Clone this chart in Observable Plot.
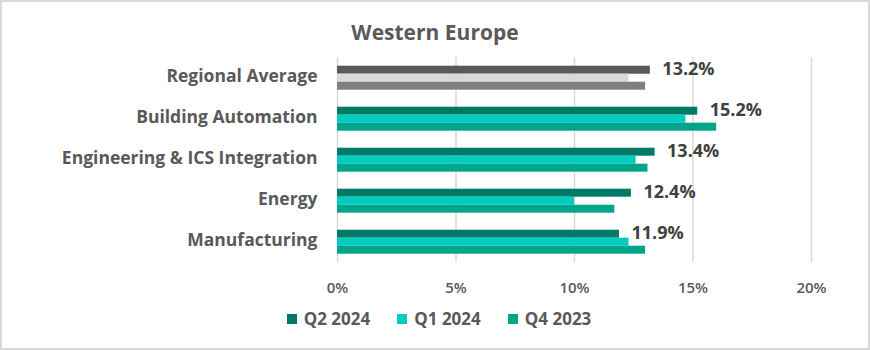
<!DOCTYPE html>
<html><head><meta charset="utf-8">
<script src="https://cdn.jsdelivr.net/npm/d3@7"></script>
<script src="https://cdn.jsdelivr.net/npm/@observablehq/plot@0.6"></script>
<style>
body{margin:0;background:#fff;font-family:"Open Sans",Lato,sans-serif;}
#wrap{position:relative;width:870px;height:350px;overflow:hidden;background:#fff}
#border{position:absolute;left:0;top:0;width:870px;height:350px;border:2px solid #d9d9d9;box-sizing:border-box;pointer-events:none}
#title{position:absolute;left:0;width:870px;top:22px;text-align:center;font-size:21px;line-height:21px;font-weight:700;color:#595959}
#chart{position:absolute;left:0;top:45px}
#legend{position:absolute;left:8px;width:862px;top:310px;display:flex;justify-content:center;gap:27px;font-size:17px;line-height:17px;font-weight:700;color:#595959}
.item{display:flex;align-items:center;gap:7px}
.sw{width:10px;height:10px;display:inline-block}
</style></head>
<body>
<div id="wrap">
  <div id="title">Western Europe</div>
  <div id="chart"></div>
  <div id="legend"></div>
  <div id="border"></div>
</div>
<script>
const categories = ["Regional Average", "Building Automation", "Engineering & ICS Integration", "Energy", "Manufacturing"];
const seriesNames = ["Q2 2024", "Q1 2024", "Q4 2023"];
const q2_2024 = [13.2, 15.2, 13.4, 12.4, 11.9];
const q1_2024 = [12.3, 14.7, 12.6, 10.0, 12.3];
const q4_2023 = [13.0, 16.0, 13.1, 11.7, 13.0];
const xTicks = [0, 5, 10, 15, 20];
const seriesColors = ["#007a67", "#00ccc0", "#00a58a"];
const averageColors = ["#595959", "#d9d9d9", "#7f7f7f"];

const seriesValues = [q2_2024, q1_2024, q4_2023];
const rows = [];
categories.forEach((c, i) => {
  seriesNames.forEach((s, j) => {
    rows.push({category: c, series: s, value: seriesValues[j][i], key: i === 0 ? "avg " + s : s});
  });
});

const colorDomain = [...seriesNames, ...seriesNames.map(s => "avg " + s)];
const colorRange = [...seriesColors, ...averageColors];

const chart = Plot.plot({
  width: 870,
  height: 255,
  marginTop: 10.3,
  marginBottom: 36.3,
  marginLeft: 337,
  marginRight: 59,
  style: {fontFamily: "'Open Sans', Lato, sans-serif", background: "white", overflow: "visible"},
  x: {domain: [0, 20]},
  fy: {domain: categories, padding: 0},
  y: {domain: seriesNames, axis: null, paddingInner: 0, paddingOuter: 0.875},
  color: {domain: colorDomain, range: colorRange},
  marks: [
    Plot.gridX(xTicks, {stroke: "#d9d9d9", strokeOpacity: 1, strokeWidth: 1.5}),
    Plot.barX(rows, {x: "value", y: "series", fy: "category", fill: "key"}),
    Plot.text(rows.filter(d => d.series === seriesNames[0]), {
      x: "value", y: "series", fy: "category",
      text: d => d.value.toFixed(1) + "%",
      textAnchor: "start", dx: 12, dy: -1, fontSize: 18, fontWeight: 700, fill: "#404040"
    }),
    Plot.axisX(xTicks, {tickFormat: d => d + "%", tickSize: 0, tickPadding: 20, fontSize: 15, fontWeight: 600, color: "#595959", label: null}),
    Plot.axisFy({anchor: "left", tickSize: 0, tickPadding: 20, dy: -1.5, fontSize: 17.5, fontWeight: 700, color: "#595959", label: null})
  ]
});
document.getElementById("chart").appendChild(chart);

const legend = document.getElementById("legend");
seriesNames.forEach((s, j) => {
  const item = document.createElement("div");
  item.className = "item";
  const sw = document.createElement("span");
  sw.className = "sw";
  sw.style.background = seriesColors[j];
  const t = document.createElement("span");
  t.textContent = s;
  item.appendChild(sw);
  item.appendChild(t);
  legend.appendChild(item);
});
</script>
</body></html>
